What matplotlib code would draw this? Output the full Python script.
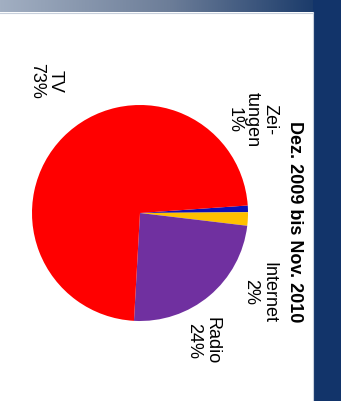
import numpy as np
import matplotlib.pyplot as plt
from matplotlib.patches import Rectangle
from matplotlib.colors import LinearSegmentedColormap

plt.rcParams['font.family'] = ['Liberation Sans', 'DejaVu Sans']

# Mediennutzung, Anteile in Prozent
title = 'Dez. 2009 bis Nov. 2010'
categories = ['Zei-\ntungen', 'Internet', 'Radio', 'TV']
shares = [1, 2, 24, 73]
colors = ['#1010b4', '#ffc000', '#7030a0', '#ff0000']

W, H = 346, 401
fig = plt.figure(figsize=(W / 100, H / 100), dpi=100)
ax = fig.add_axes([0, 0, 1, 1])

# Kopfleiste mit Verlauf und dunkler Randstreifen rechts
grad = LinearSegmentedColormap.from_list('kopf', ['#a2afc2', '#6c7d98', '#0c2f62'])
ax.imshow(np.linspace(0, 1, 256).reshape(1, -1), cmap=grad, aspect='auto',
          extent=(0, 341, H - 12, H), zorder=1)
ax.add_patch(Rectangle((313, 0), 28, H, facecolor='#12346a', edgecolor='none', zorder=2))
ax.plot([313, 313], [0, H - 12], color='#c8d0dc', lw=0.8, zorder=3)
ax.plot([0, 313], [H - 12.5, H - 12.5], color='#c8d0dc', lw=0.8, zorder=3)

# Kreisdiagramm, im Uhrzeigersinn
cx, cy, r = 140, H - 213, 108
ax.pie(shares, colors=colors, startangle=4, counterclock=False,
       center=(cx, cy), radius=r, frame=True,
       wedgeprops=dict(linewidth=0))
ax.set_xlim(0, W)
ax.set_ylim(0, H)
ax.set_aspect('equal')
ax.axis('off')

# Beschriftungen (um 90 Grad gedreht)
label_pos = [(252, H - 120), (260, H - 292), (203, H - 341), (46, H - 81)]
for cat, val, (x, y) in zip(categories, shares, label_pos):
    ax.text(x, y, f'{cat}\n{val}%', rotation=-90, ha='center', va='center',
            multialignment='center', fontsize=13, linespacing=1.1, zorder=5)

ax.text(295, H - 222, title, rotation=-90, ha='center', va='center',
        fontsize=13, fontweight='bold', zorder=5)

fig.savefig('out.png', dpi=100)
